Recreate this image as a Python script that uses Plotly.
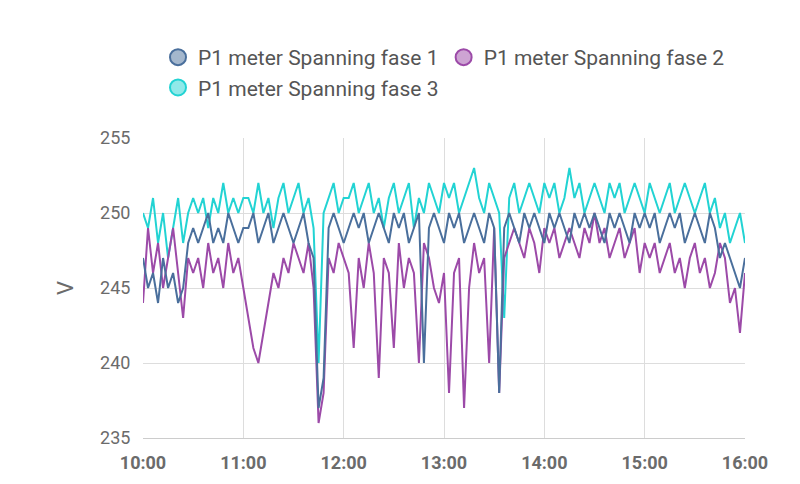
import pandas as pd
import plotly.graph_objects as go

times = pd.date_range("2024-01-01 10:00", "2024-01-01 16:00", freq="3min")

fase1 = [247,245,246,244,247,245,246,244,245,248,249,
         248,249,250,248,249,248,250,249,248,249,
         249,250,248,249,250,248,249,250,249,248,
         249,250,248,247,237,239,249,250,249,248,
         249,250,249,250,248,249,250,249,248,250,
         249,250,248,249,250,240,249,250,249,248,
         250,249,250,248,249,250,249,248,250,249,
         238,249,250,249,248,250,249,250,249,248,
         250,249,250,249,248,250,249,250,249,250,
         249,248,250,249,250,249,248,250,249,250,
         249,250,248,249,250,249,250,248,249,250,
         249,248,250,249,247,248,247,246,245,247]

fase2 = [244,249,246,248,245,247,249,246,243,247,246,
         247,245,248,246,247,245,248,246,247,245,
         243,241,240,242,244,246,245,247,246,248,
         247,246,248,245,236,238,247,246,248,247,
         246,241,247,245,248,246,239,247,246,241,
         248,245,247,246,240,248,247,245,244,246,
         238,246,247,237,245,248,246,247,240,249,
         238,247,248,249,248,247,249,248,246,249,
         248,249,247,248,249,248,247,249,248,250,
         248,249,247,248,249,247,248,249,246,248,
         247,248,246,247,248,246,247,245,247,248,
         246,247,245,246,248,247,244,245,242,246]

fase3 = [250,249,251,248,250,247,249,251,248,250,251,
         250,251,249,251,250,252,250,251,250,251,
         251,250,252,250,251,249,251,252,250,251,
         252,250,251,249,240,250,251,252,250,251,
         251,252,250,251,252,250,251,249,251,252,
         250,251,252,249,251,250,252,251,250,252,
         251,252,250,251,252,253,251,250,252,251,
         250,243,251,252,250,251,252,251,250,252,
         251,252,250,251,253,251,252,250,251,252,
         251,250,252,251,252,250,251,252,251,250,
         252,251,250,251,252,250,251,252,251,250,
         251,252,250,251,249,250,248,249,250,248]

series = [
    ("P1 meter Spanning fase 1", fase1, "#4a6f9c", "rgba(74,111,156,0.5)"),
    ("P1 meter Spanning fase 2", fase2, "#9c4aa8", "rgba(156,74,168,0.5)"),
    ("P1 meter Spanning fase 3", fase3, "#22d3d3", "rgba(34,211,211,0.5)"),
]

fig = go.Figure()
# cyan first, then purple, blue on top
for idx in [2, 1, 0]:
    name, vals, col, fill = series[idx]
    fig.add_trace(go.Scatter(x=times, y=vals, name=name, mode="lines",
                             line=dict(color=col, width=2), showlegend=False))
# legend entries with circle markers
for name, vals, col, fill in series:
    fig.add_trace(go.Scatter(x=[None], y=[None], name=name, mode="markers",
                             marker=dict(size=24, color=fill, line=dict(color=col, width=2))))

fig.update_layout(
    width=800, height=484,
    margin=dict(l=135, r=63, t=130, b=54, autoexpand=False),
    plot_bgcolor="white", paper_bgcolor="white",
    font=dict(family="Roboto", size=18, color="#6b6b6b"),
    legend=dict(orientation="h", x=0.5, xanchor="center", y=1.1, yanchor="bottom",
                font=dict(size=21, color="#555"), itemwidth=30),
    xaxis=dict(range=[times[0], times[-1]], dtick=3600000, tickformat="%H:%M",
               showgrid=True, gridcolor="#dddddd", linecolor="#cccccc",
               ticks="outside", ticklen=8, tickcolor="white",
               tickfont=dict(size=18, color="#6b6b6b", weight="bold")),
    yaxis=dict(range=[235, 255], dtick=5, showgrid=True, gridcolor="#dddddd",
               ticks="outside", ticklen=8, tickcolor="white",
               title=dict(text="V", standoff=20), zeroline=False),
)
fig.write_html("out.html")
